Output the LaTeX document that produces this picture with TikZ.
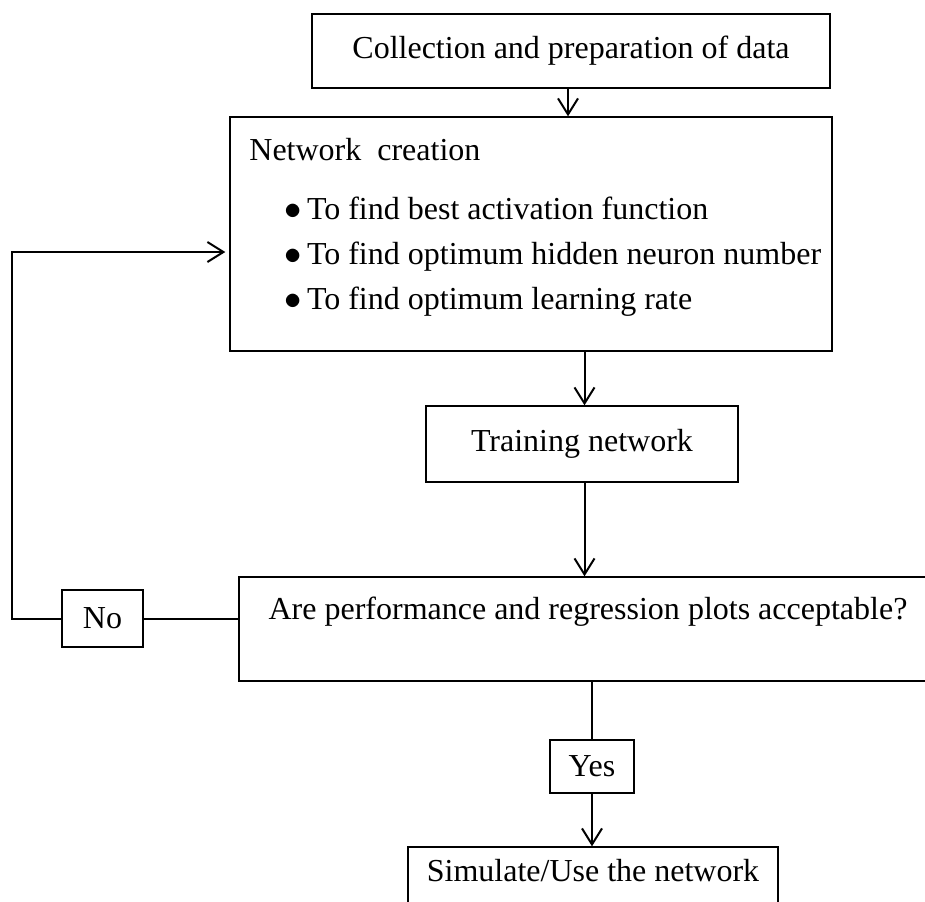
\documentclass[tikz,border=0pt]{standalone}
\usepackage{fontspec}
\setmainfont{Liberation Serif}
\usetikzlibrary{arrows.meta,calc}
\begin{document}
\begin{tikzpicture}[x=0.5pt,y=-0.5pt,
  box/.style={draw, line width=0.7pt, inner sep=0pt, rectangle},
  txt/.style={inner sep=0pt, font=\fontsize{16}{19}\selectfont},
  conn/.style={line width=1pt},
  arr/.style={conn, -{Straight Barb[length=8pt,width=10pt,line width=1pt]}}]
\useasboundingbox (0,0) rectangle (925,901);
\node[box, txt, minimum width=259pt, minimum height=37pt] (collect) at (571,51) {Collection and preparation of data};
\node[box, minimum width=301pt, minimum height=117pt] (net) at (531,234) {};
\node[txt, anchor=base west] (netT) at (249,160) {Network\ \ creation};
\node[txt, anchor=base west] (b1) at (284,219) {$\bullet$\,To find best activation function};
\node[txt, anchor=base west] (b2) at (284,264) {$\bullet$\,To find optimum hidden neuron number};
\node[txt, anchor=base west] (b3) at (284,309) {$\bullet$\,To find optimum learning rate};
\node[box, txt, minimum width=156pt, minimum height=38pt] (train) at (582,444) {Training network};
\node[box, minimum width=345.5pt, minimum height=52pt] (dec) at (584.5,629) {};
\node[txt] (decT) at (588,612) {Are performance and regression plots acceptable?};
\node[box, txt, minimum width=40.5pt, minimum height=28.5pt] (no) at (102.5,618.5) {No};
\node[box, txt, minimum width=42pt, minimum height=26.5pt] (yes) at (592,766.5) {Yes};
\node[box, minimum width=185pt, minimum height=31.5pt] (sim) at (593,878.5) {};
\node[txt] (simT) at (593,871) {Simulate/Use the network};
\coordinate (corner) at (12,618.5);
\coordinate (ta) at (568,88);
\draw[arr] (ta) -- (net.north -| ta);
\draw[arr] (net.south -| dec.north) -- (train.north -| dec.north);
\draw[arr] (train.south -| dec.north) -- (dec.north);
\draw[conn] (dec.south -| yes.north) -- (yes.north);
\draw[arr] (yes.south) -- (sim.north -| yes.south);
\draw[conn] (no.east) -- (dec.west |- no.east);
\draw[arr, shorten >=2pt] (no.west) -- (corner) |- ([yshift=-9pt]net.west);
\end{tikzpicture}
\end{document}
